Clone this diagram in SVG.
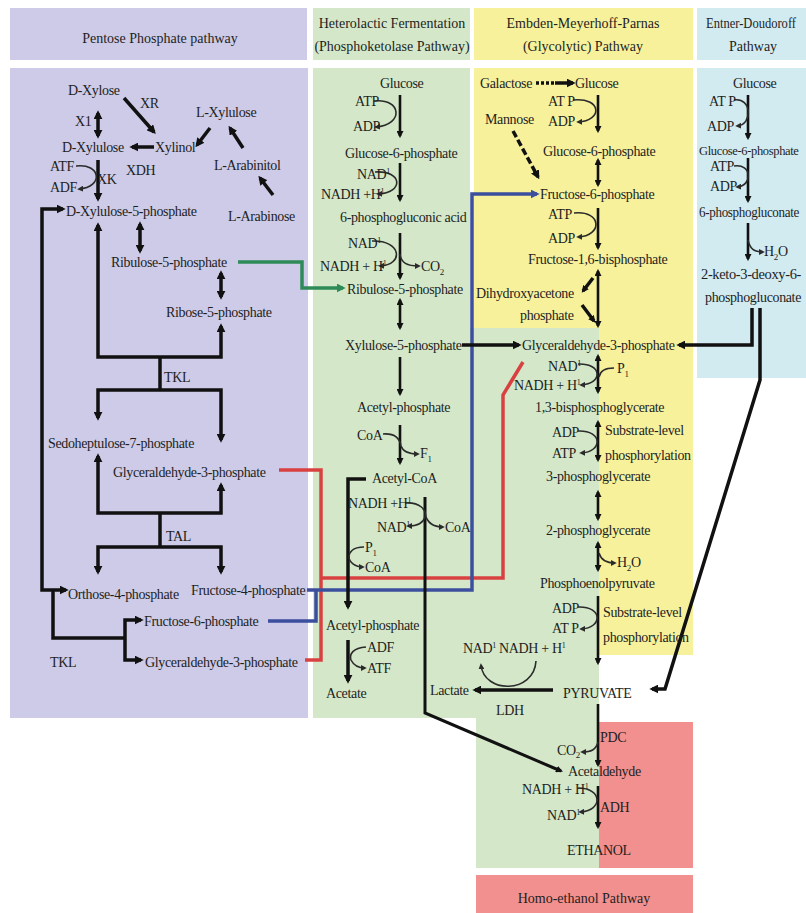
<svg xmlns="http://www.w3.org/2000/svg" width="806" height="913" viewBox="0 0 806 913">
<defs>
<style>
text{font-family:"Liberation Serif","Times New Roman",serif;font-size:14px;fill:#1e1e1e;letter-spacing:-0.35px}
.h{letter-spacing:0}
.sp{font-size:8px}
.sb{font-size:9px}
.k{fill:none;stroke:#111;stroke-width:3.5}
.v{fill:none;stroke:#111;stroke-width:2.6}
.c{fill:none;stroke:#2b2b2b;stroke-width:1.6}
.pu{fill:#cdcbe7}.gr{fill:#d4e8c9}.ye{fill:#f7f19c}.bl{fill:#d2ebf1}.re{fill:#f2908f}
</style>
<marker id="a" viewBox="0 0 10 10" refX="7" refY="5" markerWidth="9" markerHeight="9" markerUnits="userSpaceOnUse" orient="auto-start-reverse"><path d="M0,0L10,5L0,10z" fill="#111"/></marker>
<marker id="s" viewBox="0 0 10 10" refX="7" refY="5" markerWidth="7" markerHeight="7" markerUnits="userSpaceOnUse" orient="auto-start-reverse"><path d="M0,0L10,5L0,10z" fill="#111"/></marker>
<marker id="c" viewBox="0 0 10 10" refX="7" refY="5" markerWidth="6" markerHeight="6" markerUnits="userSpaceOnUse" orient="auto-start-reverse"><path d="M0,0L10,5L0,10z" fill="#2b2b2b"/></marker>
<marker id="g" viewBox="0 0 10 10" refX="7" refY="5" markerWidth="9" markerHeight="9" markerUnits="userSpaceOnUse" orient="auto"><path d="M0,0L10,5L0,10z" fill="#2e8b57"/></marker>
<marker id="b" viewBox="0 0 10 10" refX="7" refY="5" markerWidth="9" markerHeight="9" markerUnits="userSpaceOnUse" orient="auto"><path d="M0,0L10,5L0,10z" fill="#3b4f9e"/></marker>
</defs>
<rect width="806" height="913" fill="#fff"/>
<g id="panels">
<rect class="pu" x="10" y="8" width="297" height="52"/>
<rect class="gr" x="313" y="8" width="157" height="52"/>
<rect class="ye" x="474" y="8" width="219" height="52"/>
<rect class="bl" x="697" y="8" width="109" height="52"/>
<rect class="pu" x="10" y="68" width="298" height="650"/>
<rect class="gr" x="313" y="68" width="157" height="650"/>
<rect class="ye" x="474" y="68" width="219" height="260"/>
<rect class="gr" x="470" y="328" width="129" height="390"/>
<rect class="gr" x="476" y="718" width="123" height="150"/>
<rect class="ye" x="599" y="328" width="94" height="327"/>
<rect class="re" x="599" y="722" width="94" height="146"/>
<rect class="bl" x="697" y="68" width="109" height="310"/>
<rect class="re" x="476" y="875" width="217" height="38"/>
</g>
<g id="headers">
<g id="h-ppp"><text class="h" x="160" y="43" text-anchor="middle">Pentose Phosphate pathway</text></g>
<g id="h-hf"><text class="h" x="392" y="28" text-anchor="middle">Heterolactic Fermentation</text><text class="h" x="392" y="51" text-anchor="middle">(Phosphoketolase Pathway)</text></g>
<g id="h-emp"><text class="h" x="583" y="28" text-anchor="middle">Embden-Meyerhoff-Parnas</text><text class="h" x="583" y="51" text-anchor="middle">(Glycolytic) Pathway</text></g>
<g id="h-ed"><text class="h" x="706" y="28" textLength="90" lengthAdjust="spacingAndGlyphs">Entner-Doudoroff</text><text class="h" x="753" y="51" text-anchor="middle">Pathway</text></g>
<g id="h-homo"><text class="h" x="584" y="903" text-anchor="middle">Homo-ethanol Pathway</text></g>
</g>
<g id="connectors">
<line class="k" x1="124" y1="98" x2="154" y2="132" marker-end="url(#a)"/>
<line class="k" x1="98" y1="113" x2="98" y2="136" marker-start="url(#a)" marker-end="url(#a)"/>
<line class="k" x1="154" y1="147" x2="132" y2="147" marker-end="url(#a)"/>
<line class="k" x1="210" y1="128" x2="197" y2="145" marker-end="url(#a)"/>
<line class="k" x1="243" y1="148" x2="230" y2="128" marker-end="url(#a)"/>
<line class="k" x1="273" y1="195" x2="260" y2="178" marker-end="url(#a)"/>
<line class="k" x1="98" y1="160" x2="98" y2="199" marker-end="url(#a)"/>
<path class="c" d="M76,166 C101,163 104,187 79,189" marker-end="url(#c)"/>
<line class="k" x1="140" y1="224" x2="140" y2="251" marker-start="url(#a)" marker-end="url(#a)"/>
<path class="k" d="M98,225 L98,357 L221,357 L221,326" marker-start="url(#a)" marker-end="url(#a)"/>
<line class="k" x1="221" y1="273" x2="221" y2="297" marker-start="url(#a)" marker-end="url(#a)"/>
<line class="k" x1="160" y1="357" x2="160" y2="390"/>
<path class="k" d="M98,418 L98,390 L221,390 L221,440" marker-start="url(#a)" marker-end="url(#a)"/>
<path class="k" d="M98,456 L98,513 L221,513 L221,485" marker-start="url(#a)" marker-end="url(#a)"/>
<line class="k" x1="160" y1="513" x2="160" y2="547"/>
<path class="k" d="M98,572 L98,547 L221,547 L221,572" marker-start="url(#a)" marker-end="url(#a)"/>
<path class="k" d="M63,209 L42,209 L42,590 L66,590" marker-start="url(#a)" marker-end="url(#a)"/>
<path class="k" d="M53,590 L53,638 L125,638"/>
<path class="k" d="M141,620 L125,620 L125,660 L141,660" marker-start="url(#a)" marker-end="url(#a)"/>
<path d="M238,262 L302,262 L302,288 L343,288" fill="none" stroke="#2e8b57" stroke-width="3.5" marker-end="url(#g)"/>
<path d="M279,470 L321,470 L321,660 L305,660" fill="none" stroke="#d94141" stroke-width="3.5"/>
<path d="M321,578 L503,578 L503,395 L523,362" fill="none" stroke="#d94141" stroke-width="3.5"/>
<path d="M268,621 L316,621 L316,590" fill="none" stroke="#3b4f9e" stroke-width="3.5"/>
<path d="M307,590 L472,590 L472,194 L537,194" fill="none" stroke="#3b4f9e" stroke-width="3.5" marker-end="url(#b)"/>
<line class="v" x1="400" y1="95" x2="400" y2="136" marker-end="url(#s)"/>
<path class="c" d="M374,101 C402,98 404,125 376,127" marker-end="url(#c)"/>
<line class="v" x1="400" y1="163" x2="400" y2="200" marker-end="url(#s)"/>
<path class="c" d="M375,172 C403,170 404,193 378,194" marker-end="url(#c)"/>
<line class="v" x1="400" y1="233" x2="400" y2="278" marker-end="url(#s)"/>
<path class="c" d="M372,241 C402,240 404,265 380,266" marker-end="url(#c)"/>
<path class="c" d="M400,254 C401,263 407,266 419,266" marker-end="url(#c)"/>
<line class="v" x1="400" y1="300" x2="400" y2="328" marker-start="url(#s)" marker-end="url(#s)"/>
<line class="v" x1="400" y1="357" x2="400" y2="394" marker-end="url(#s)"/>
<line class="v" x1="400" y1="425" x2="400" y2="463" marker-end="url(#s)"/>
<path class="c" d="M383,434 C396,433 400,440 401,446 C403,452 409,454 418,454" marker-end="url(#c)"/>
<path class="k" d="M366,479 L348,479 L348,607" marker-end="url(#a)"/>
<path class="c" d="M364,547 C352,547 349,553 349,557 C349,562 355,567 363,567" marker-end="url(#c)"/>
<line class="k" x1="348" y1="640" x2="348" y2="681" marker-end="url(#a)"/>
<path class="c" d="M366,647 C353,648 349,654 351,660 C354,666 359,668 365,668" marker-end="url(#c)"/>
<path class="k" style="stroke-width:3" d="M425,497 L425,713 L561,771" marker-end="url(#s)"/>
<path class="c" d="M405,503 C420,502 427,510 425,517 C423,524 416,526 408,526" marker-end="url(#c)"/>
<path class="c" d="M425,514 C427,522 432,527 443,527" marker-end="url(#c)"/>
<line class="k" x1="462" y1="345" x2="519" y2="345" marker-end="url(#a)"/>
<line class="k" x1="536" y1="83" x2="556" y2="83" stroke-dasharray="3 2"/>
<line class="k" x1="555" y1="83" x2="573" y2="83" marker-end="url(#a)"/>
<line class="v" x1="598" y1="95" x2="598" y2="131" marker-end="url(#s)"/>
<path class="c" d="M573,100 C602,97 603,121 578,122" marker-end="url(#c)"/>
<line class="k" x1="513" y1="131" x2="538" y2="177" stroke-dasharray="7 3" marker-end="url(#a)"/>
<line class="v" x1="598" y1="160" x2="598" y2="185" marker-start="url(#s)" marker-end="url(#s)"/>
<line class="v" x1="598" y1="208" x2="598" y2="248" marker-end="url(#s)"/>
<path class="c" d="M574,213 C602,210 603,236 578,237" marker-end="url(#c)"/>
<line class="v" x1="598" y1="271" x2="598" y2="326" marker-start="url(#s)" marker-end="url(#s)"/>
<line class="k" x1="593" y1="278" x2="583" y2="291" marker-end="url(#s)"/>
<line class="k" x1="582" y1="305" x2="594" y2="321" marker-end="url(#s)"/>
<line class="v" x1="598" y1="356" x2="598" y2="392" marker-start="url(#s)" marker-end="url(#s)"/>
<path class="c" d="M578,364 C603,363 603,384 581,385" marker-end="url(#c)"/>
<path class="c" d="M614,368 C606,368 600,371 599,377"/>
<line class="v" x1="598" y1="422" x2="598" y2="460" marker-start="url(#s)" marker-end="url(#s)"/>
<path class="c" d="M578,431 C603,430 603,452 581,453" marker-end="url(#c)"/>
<line class="v" x1="598" y1="492" x2="598" y2="519" marker-start="url(#s)" marker-end="url(#s)"/>
<line class="v" x1="598" y1="543" x2="598" y2="570" marker-start="url(#s)" marker-end="url(#s)"/>
<path class="c" d="M599,553 C601,560 606,563 615,563" marker-end="url(#c)"/>
<line class="v" x1="598" y1="596" x2="598" y2="663" marker-end="url(#s)"/>
<path class="c" d="M578,607 C603,606 603,628 581,629" marker-end="url(#c)"/>
<path class="c" d="M536,661 C534,694 484,694 481,665" marker-end="url(#c)"/>
<line class="k" x1="553" y1="690" x2="475" y2="690" marker-end="url(#a)"/>
<line class="v" x1="598" y1="704" x2="598" y2="765" marker-end="url(#s)"/>
<path class="c" d="M598,742 C596,750 591,752 582,752" marker-end="url(#c)"/>
<line class="v" x1="598" y1="786" x2="598" y2="827" marker-end="url(#s)"/>
<path class="c" d="M578,788 C603,788 603,811 580,812" marker-end="url(#c)"/>
<path class="k" d="M752,308 L752,345 L679,345" marker-end="url(#a)"/>
<path class="k" d="M760,308 L760,380 L665,689 L652,689" marker-end="url(#a)"/>
<line class="v" x1="748" y1="95" x2="748" y2="138" marker-end="url(#s)"/>
<path class="c" d="M734,100 C752,97 753,125 737,126" marker-end="url(#c)"/>
<line class="v" x1="748" y1="158" x2="748" y2="201" marker-end="url(#s)"/>
<path class="c" d="M734,166 C752,163 753,186 737,187" marker-end="url(#c)"/>
<line class="v" x1="748" y1="223" x2="748" y2="259" marker-end="url(#s)"/>
<path class="c" d="M748,240 C750,249 754,252 763,252" marker-end="url(#c)"/>
</g>
<g id="ppp-nodes">
<g id="p-dxylose"><text x="68" y="95">D-Xylose</text></g>
<g id="p-xr"><text x="140" y="108">XR</text></g>
<g id="p-lxylulose"><text x="196" y="117">L-Xylulose</text></g>
<g id="p-x1"><text x="75" y="126">X1</text></g>
<g id="p-dxylulose"><text x="62" y="152">D-Xylulose</text></g>
<g id="p-xylinol"><text x="155" y="152">Xylinol</text></g>
<g id="p-xdh"><text x="126" y="175">XDH</text></g>
<g id="p-larabinitol"><text x="214" y="170">L-Arabinitol</text></g>
<g id="p-atf"><text x="50" y="171">ATF</text></g>
<g id="p-xk"><text x="97" y="184">XK</text></g>
<g id="p-adf"><text x="50" y="192">ADF</text></g>
<g id="p-dx5p"><text x="66" y="216">D-Xylulose-5-phosphate</text></g>
<g id="p-larabinose"><text x="228" y="221">L-Arabinose</text></g>
<g id="p-ru5p"><text x="111" y="267">Ribulose-5-phosphate</text></g>
<g id="p-r5p"><text x="166" y="317">Ribose-5-phosphate</text></g>
<g id="p-tkl1"><text x="164" y="382">TKL</text></g>
<g id="p-s7p"><text x="48" y="448">Sedoheptulose-7-phosphate</text></g>
<g id="p-g3p1"><text x="113" y="477">Glyceraldehyde-3-phosphate</text></g>
<g id="p-tal"><text x="166" y="541">TAL</text></g>
<g id="p-o4p"><text x="68" y="599">Orthose-4-phosphate</text></g>
<g id="p-f4p"><text x="191" y="595">Fructose-4-phosphate</text></g>
<g id="p-f6p"><text x="144" y="626">Fructose-6-phosphate</text></g>
<g id="p-g3p2"><text x="145" y="667">Glyceraldehyde-3-phosphate</text></g>
<g id="p-tkl2"><text x="50" y="667">TKL</text></g>
</g>
<g id="hf-nodes">
<g id="f-glucose"><text x="380" y="88">Glucose</text></g>
<g id="f-atp"><text x="355" y="106">ATP</text></g>
<g id="f-adp"><text x="353" y="131">ADP</text></g>
<g id="f-g6p"><text x="345" y="158">Glucose-6-phosphate</text></g>
<g id="f-nad1"><text x="357" y="179">NAD<tspan class="sp" dy="-5">1</tspan></text></g>
<g id="f-nadh1"><text x="321" y="199">NADH +H<tspan class="sp" dy="-5">1</tspan></text></g>
<g id="f-6pga"><text x="340" y="222">6-phosphogluconic acid</text></g>
<g id="f-nad2"><text x="348" y="248">NAD<tspan class="sp" dy="-5">1</tspan></text></g>
<g id="f-nadh2"><text x="320" y="271">NADH + H<tspan class="sp" dy="-5">1</tspan></text></g>
<g id="f-co2"><text x="421" y="271">CO<tspan class="sb" dy="4">2</tspan></text></g>
<g id="f-ru5p"><text x="347" y="294">Ribulose-5-phosphate</text></g>
<g id="f-xu5p"><text x="345" y="350">Xylulose-5-phosphate</text></g>
<g id="f-acp1"><text x="357" y="412">Acetyl-phosphate</text></g>
<g id="f-coa1"><text x="357" y="440">CoA</text></g>
<g id="f-f1"><text x="420" y="458">F<tspan class="sb" dy="4">1</tspan></text></g>
<g id="f-acoa"><text x="372" y="483">Acetyl-CoA</text></g>
<g id="f-nadh3"><text x="348" y="508">NADH +H<tspan class="sp" dy="-5">1</tspan></text></g>
<g id="f-nad3"><text x="377" y="532">NAD<tspan class="sp" dy="-5">1</tspan></text></g>
<g id="f-coa2"><text x="445" y="532">CoA</text></g>
<g id="f-p1"><text x="365" y="552">P<tspan class="sb" dy="4">1</tspan></text></g>
<g id="f-coa3"><text x="365" y="572">CoA</text></g>
<g id="f-acp2"><text x="326" y="630">Acetyl-phosphate</text></g>
<g id="f-adf"><text x="367" y="652">ADF</text></g>
<g id="f-atf"><text x="367" y="673">ATF</text></g>
<g id="f-acetate"><text x="326" y="698">Acetate</text></g>
<g id="f-lactate"><text x="430" y="695">Lactate</text></g>
</g>
<g id="emp-nodes">
<g id="e-galactose"><text x="480" y="88">Galactose</text></g>
<g id="e-glucose"><text x="575" y="88">Glucose</text></g>
<g id="e-atp1"><text x="548" y="106">AT P</text></g>
<g id="e-mannose"><text x="485" y="124">Mannose</text></g>
<g id="e-adp1"><text x="548" y="126">ADP</text></g>
<g id="e-g6p"><text x="543" y="156">Glucose-6-phosphate</text></g>
<g id="e-f6p"><text x="540" y="199">Fructose-6-phosphate</text></g>
<g id="e-atp2"><text x="548" y="219">ATP</text></g>
<g id="e-adp2"><text x="548" y="243">ADP</text></g>
<g id="e-f16bp"><text x="528" y="264">Fructose-1,6-bisphosphate</text></g>
<g id="e-dhap"><text x="476" y="298">Dihydroxyacetone</text><text x="520" y="320">phosphate</text></g>
<g id="e-g3p"><text x="522" y="350">Glyceraldehyde-3-phosphate</text></g>
<g id="e-nad1"><text x="548" y="371">NAD<tspan class="sp" dy="-5">1</tspan></text></g>
<g id="e-p1"><text x="617" y="373">P<tspan class="sb" dy="4">1</tspan></text></g>
<g id="e-nadh1"><text x="514" y="390">NADH + H<tspan class="sp" dy="-5">1</tspan></text></g>
<g id="e-13bpg"><text x="535" y="412">1,3-bisphosphoglycerate</text></g>
<g id="e-adp3"><text x="552" y="437">ADP</text></g>
<g id="e-slp1"><text x="605" y="435">Substrate-level</text><text x="605" y="460">phosphorylation</text></g>
<g id="e-atp3"><text x="552" y="458">ATP</text></g>
<g id="e-3pg"><text x="546" y="481">3-phosphoglycerate</text></g>
<g id="e-2pg"><text x="546" y="535">2-phosphoglycerate</text></g>
<g id="e-h2o"><text x="617" y="567">H<tspan class="sb" dy="4">2</tspan><tspan dy="-4">O</tspan></text></g>
<g id="e-pep"><text x="540" y="588">Phosphoenolpyruvate</text></g>
<g id="e-adp4"><text x="552" y="613">ADP</text></g>
<g id="e-slp2"><text x="603" y="617">Substrate-level</text><text x="603" y="642">phosphorylation</text></g>
<g id="e-atp4"><text x="552" y="633">AT P</text></g>
<g id="e-nadnadh"><text x="463" y="653">NAD<tspan class="sp" dy="-5">1</tspan><tspan dy="5"> NADH + H</tspan><tspan class="sp" dy="-5">1</tspan></text></g>
<g id="e-pyruvate"><text x="563" y="698">PYRUVATE</text></g>
<g id="e-ldh"><text x="496" y="715">LDH</text></g>
<g id="e-pdc"><text x="600" y="742">PDC</text></g>
<g id="e-co2"><text x="557" y="755">CO<tspan class="sb" dy="3">2</tspan></text></g>
<g id="e-acetaldehyde"><text x="568" y="776">Acetaldehyde</text></g>
<g id="e-nadh2"><text x="522" y="794">NADH + H<tspan class="sp" dy="-5">1</tspan></text></g>
<g id="e-adh"><text x="600" y="812">ADH</text></g>
<g id="e-nad2"><text x="547" y="820">NAD<tspan class="sp" dy="-5">1</tspan></text></g>
<g id="e-ethanol"><text x="567" y="855">ETHANOL</text></g>
</g>
<g id="ed-nodes">
<g id="d-glucose"><text x="733" y="88">Glucose</text></g>
<g id="d-atp1"><text x="709" y="106">AT P</text></g>
<g id="d-adp1"><text x="707" y="131">ADP</text></g>
<g id="d-g6p"><text x="699" y="155" style="font-size:12.5px">Glucose-6-phosphate</text></g>
<g id="d-atp2"><text x="710" y="171">ATP</text></g>
<g id="d-adp2"><text x="710" y="191">ADP</text></g>
<g id="d-6pg"><text x="699" y="217" textLength="100" lengthAdjust="spacingAndGlyphs">6-phosphogluconate</text></g>
<g id="d-h2o"><text x="764" y="256">H<tspan class="sb" dy="4">2</tspan><tspan dy="-4">O</tspan></text></g>
<g id="d-kdpg"><text x="701" y="279" textLength="100" lengthAdjust="spacingAndGlyphs">2-keto-3-deoxy-6-</text><text x="705" y="302" textLength="96" lengthAdjust="spacingAndGlyphs">phosphogluconate</text></g>
</g>
</svg>
